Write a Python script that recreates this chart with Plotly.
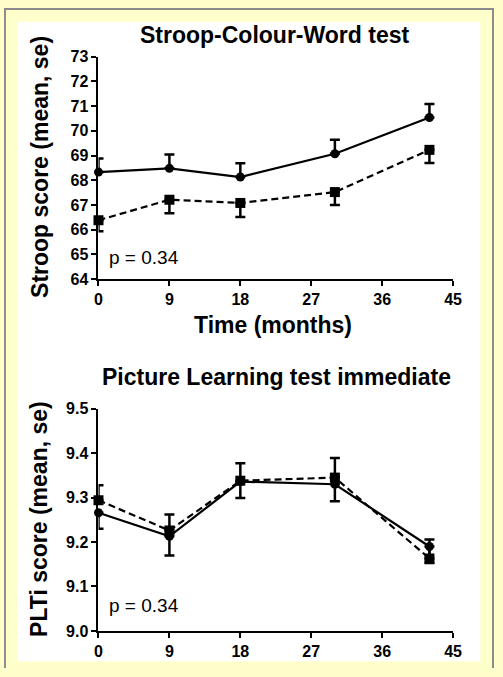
import plotly.graph_objects as go

# ---- data ----
months = [0, 9, 18, 30, 42]
x_ticks = [0, 9, 18, 27, 36, 45]

stroop_solid = [68.33, 68.48, 68.13, 69.07, 70.54]
stroop_solid_up = [0.55, 0.56, 0.56, 0.57, 0.55]
stroop_dash = [66.38, 67.21, 67.08, 67.52, 69.23]
stroop_dash_down = [0.45, 0.55, 0.57, 0.52, 0.53]
stroop_ticks = [64, 65, 66, 67, 68, 69, 70, 71, 72, 73]

plti_solid = [9.266, 9.213, 9.336, 9.330, 9.190]
plti_solid_down = [0.036, 0.043, 0.037, 0.038, 0.037]
plti_dash = [9.294, 9.226, 9.338, 9.345, 9.163]
plti_dash_up = [0.034, 0.036, 0.039, 0.044, 0.043]
plti_ticks = [9.0, 9.1, 9.2, 9.3, 9.4, 9.5]

W, H = 503, 677
FONT = "Liberation Sans, Arial, sans-serif"


def px(x):
    return x / W


def py(y):
    return 1 - y / H


fig = go.Figure()


def add_series(yvals, up, down, xa, ya, symbol, size, dash):
    fig.add_trace(go.Scatter(
        x=months, y=yvals, xaxis=xa, yaxis=ya, mode="lines+markers",
        line=dict(color="black", width=2.2, dash=dash),
        marker=dict(symbol=symbol, size=size, color="black"),
        error_y=dict(type="data", symmetric=False, array=up, arrayminus=down,
                     color="black", thickness=2.5, width=5),
        cliponaxis=False, showlegend=False))


zeros = [0] * 5
add_series(stroop_solid, stroop_solid_up, zeros, "x", "y", "circle", 9, "solid")
add_series(stroop_dash, zeros, stroop_dash_down, "x", "y", "square", 10, "7px,4px")
add_series(plti_solid, zeros, plti_solid_down, "x2", "y2", "circle", 9, "solid")
add_series(plti_dash, plti_dash_up, zeros, "x2", "y2", "square", 10, "7px,4px")

axis_common = dict(showline=True, linecolor="black", linewidth=2, ticks="outside",
                   ticklen=5, tickwidth=2, tickcolor="black", showgrid=False,
                   zeroline=False,
                   tickfont=dict(family=FONT, size=16, color="black", weight="bold"))

xdom = [px(97), px(461)]
fig.update_layout(
    width=W, height=H, margin=dict(l=0, r=0, t=0, b=0),
    paper_bgcolor="#FFFFCC", plot_bgcolor="rgba(0,0,0,0)",
    xaxis=dict(domain=xdom, range=[0, 45], tickvals=x_ticks, anchor="y", **axis_common),
    yaxis=dict(domain=[py(278), py(50)], range=[64, 73], tickvals=stroop_ticks,
               anchor="x", **axis_common),
    xaxis2=dict(domain=xdom, range=[0, 45], tickvals=x_ticks, anchor="y2", **axis_common),
    yaxis2=dict(domain=[py(639), py(411)], range=[9.0, 9.5], tickvals=plti_ticks,
                tickformat=".1f", anchor="x2", **axis_common),
)

# background panel and border (filled strips)
fig.add_shape(type="rect", xref="paper", yref="paper", x0=px(14), x1=px(489),
              y0=py(670), y1=py(14), fillcolor="white",
              line=dict(width=0, color="white"), layer="below")
for (x0, y0, x1, y1) in [(0, 0, 2, H), (0, 0, W, 2), (W - 2, 0, W, H)]:
    fig.add_shape(type="rect", xref="paper", yref="paper",
                  x0=px(x0), x1=px(x1), y0=py(y1), y1=py(y0),
                  fillcolor="#8a8a8a", line=dict(width=0, color="#8a8a8a"), layer="below")

bold = dict(family=FONT, size=23, color="black", weight="bold")
notes = [
    ("Stroop-Colour-Word test", 278, 28, 0),
    ("Stroop score (mean, se)", 37, 163, -90),
    ("Time (months)", 276, 325, 0),
    ("Picture Learning test immediate", 280, 379, 0),
    ("PLTi score (mean, se)", 36, 524, -90),
]
for text, x, y, ang in notes:
    fig.add_annotation(text=text, x=px(x), y=py(y), xref="paper", yref="paper",
                       showarrow=False, font=bold, textangle=ang,
                       xanchor="center", yanchor="middle")

for y in [256, 613]:
    fig.add_annotation(text="p = 0.34", x=px(106), y=py(y), xref="paper", yref="paper",
                       showarrow=False, xanchor="left", yanchor="middle",
                       font=dict(family=FONT, size=19, color="black"))

fig.write_html("out.html")
